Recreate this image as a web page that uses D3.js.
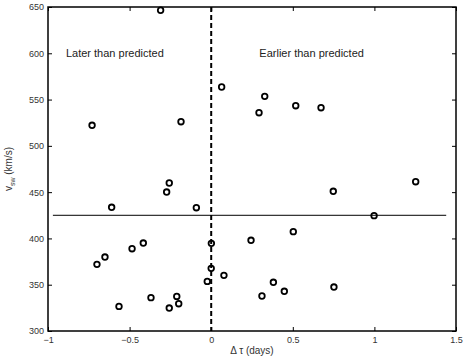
<!DOCTYPE html>
<html>
<head>
<meta charset="utf-8">
<script src="https://cdn.jsdelivr.net/npm/d3@7"></script>
<style>
  body { margin: 0; background: #fff; }
  text { font-family: "Liberation Sans", Arial, sans-serif; }
</style>
</head>
<body>
<svg id="chart"></svg>
<script>
// delay between predicted and observed arrival (days)
var deltaTau = [-0.31, -0.73, -0.185, 0.064, 0.328, 0.293, 0.518, 0.673,
    -0.257, -0.273, -0.61, -0.091, 0.748, 1.253, 0.998, 0.503, 0.244, 0.001,
    -0.416, -0.485, -0.651, -0.70, 0.0, 0.078, -0.024, 0.381, 0.752, 0.448,
    0.311, -0.211, -0.369, -0.199, -0.257, -0.565];
// solar wind speed (km/s)
var vsw = [646.5, 522.2, 526.1, 563.6, 553.5, 535.8, 543.4, 541.2,
    459.9, 450.1, 433.6, 433.2, 450.9, 461.3, 424.6, 407.3, 398, 394.7,
    395, 388.9, 379.9, 372, 367.7, 360.1, 353.6, 352.6, 347.5, 342.9,
    337.8, 337.4, 336, 329.5, 324.8, 326.6];
var xTicks = [-1, -0.5, 0, 0.5, 1, 1.5];
var yTicks = [300, 350, 400, 450, 500, 550, 600, 650];
var meanSpeed = 425;
var meanLineRange = [-0.97, 1.44];

var margin = {top: 7, right: 7, bottom: 27, left: 48};
var width = 463, height = 358;
var w = width - margin.left - margin.right;
var h = height - margin.top - margin.bottom;

var svg = d3.select("#chart").attr("width", width).attr("height", height);
var g = svg.append("g").attr("transform", `translate(${margin.left},${margin.top})`);

var x = d3.scaleLinear().domain([-1, 1.5]).range([0, w]);
var y = d3.scaleLinear().domain([300, 650]).range([h, 0]);

// ticks inside the box on all four sides, matlab style
var tickLen = 4;
g.append("g").attr("transform", `translate(0,${h})`)
    .call(d3.axisBottom(x).tickValues(xTicks).tickFormat(d3.format("~g"))
        .tickSizeInner(-tickLen).tickSizeOuter(0).tickPadding(6))
    .call(a => a.select(".domain").remove());
g.append("g")
    .call(d3.axisLeft(y).tickValues(yTicks).tickSizeInner(-tickLen).tickSizeOuter(0).tickPadding(4))
    .call(a => a.select(".domain").remove());
g.append("g")
    .call(d3.axisTop(x).tickValues(xTicks).tickSizeInner(-tickLen).tickSizeOuter(0).tickFormat(""))
    .call(a => a.select(".domain").remove());
g.append("g").attr("transform", `translate(${w},0)`)
    .call(d3.axisRight(y).tickValues(yTicks).tickSizeInner(-tickLen).tickSizeOuter(0).tickFormat(""))
    .call(a => a.select(".domain").remove());

g.selectAll(".tick text")
    .attr("font-size", 9)
    .attr("font-family", "Liberation Sans, Arial, sans-serif")
    .attr("fill", "#333");
g.selectAll(".tick line").attr("stroke", "#000");

g.append("rect")
    .attr("width", w).attr("height", h)
    .attr("fill", "none").attr("stroke", "#000").attr("stroke-width", 1.5);

// mean speed line
g.append("line")
    .attr("x1", x(meanLineRange[0])).attr("x2", x(meanLineRange[1]))
    .attr("y1", y(meanSpeed)).attr("y2", y(meanSpeed))
    .attr("stroke", "#000").attr("stroke-width", 1);

// zero delay line
g.append("line")
    .attr("x1", x(0)).attr("x2", x(0))
    .attr("y1", 0).attr("y2", h)
    .attr("stroke", "#000").attr("stroke-width", 2)
    .attr("stroke-dasharray", "5,3");

var points = deltaTau.map((d, i) => ({dt: d, v: vsw[i]}));
g.selectAll("circle")
    .data(points)
    .join("circle")
    .attr("cx", d => x(d.dt))
    .attr("cy", d => y(d.v))
    .attr("r", 2.8)
    .attr("fill", "none")
    .attr("stroke", "#000")
    .attr("stroke-width", 1.8);

g.append("text")
    .attr("x", x(-0.89)).attr("y", y(600) + 4)
    .attr("font-size", 11).attr("fill", "#222")
    .text("Later than predicted");
g.append("text")
    .attr("x", x(0.295)).attr("y", y(600) + 4)
    .attr("font-size", 11).attr("fill", "#222")
    .text("Earlier than predicted");

// axis labels
svg.append("text")
    .attr("x", margin.left + w / 2).attr("y", 354)
    .attr("text-anchor", "middle")
    .attr("font-size", 10).attr("fill", "#333")
    .text("\u0394 \u03c4 (days)");

var yl = svg.append("text")
    .attr("transform", `translate(12,${margin.top + h / 2}) rotate(-90)`)
    .attr("text-anchor", "middle")
    .attr("font-size", 10).attr("fill", "#333");
yl.append("tspan").text("v");
yl.append("tspan").attr("font-size", 7).attr("dy", 3).text("sw");
yl.append("tspan").attr("dy", -3).text(" (km/s)");
</script>
</body>
</html>
